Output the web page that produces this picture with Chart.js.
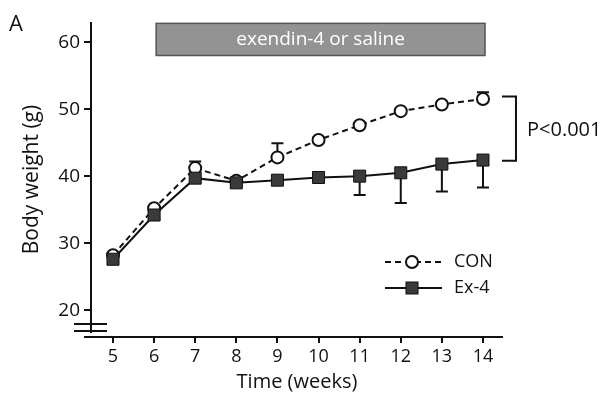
<!DOCTYPE html>
<html>
<head>
<meta charset="utf-8">
<script src="https://cdn.jsdelivr.net/npm/chart.js@4/dist/chart.umd.min.js"></script>
<style>
  html, body { margin: 0; padding: 0; background: #fff; }
</style>
</head>
<body>
<canvas id="myChart" width="613" height="395"></canvas>
<script>
// data
const weeks = [5, 6, 7, 8, 9, 10, 11, 12, 13, 14];
const conValues = [28.2, 35.2, 41.2, 39.3, 42.8, 45.4, 47.6, 49.7, 50.7, 51.5];
const conErrUp = [0.3, 0.3, 1.0, 0.4, 2.1, 0.4, 0.4, 0.4, 0.4, 1.0];
const exValues = [27.6, 34.2, 39.7, 39.0, 39.4, 39.8, 40.0, 40.5, 41.8, 42.4];
const exErrDown = [0.3, 0.5, 0.4, 0.4, 0.5, 0.5, 2.8, 4.5, 4.1, 4.1];
const yTicks = [20, 30, 40, 50, 60];
const seriesNames = ['CON', 'Ex-4'];
const bannerText = 'exendin-4 or saline';
const pText = 'P<0.001';

const FONT = "'Open Sans', 'Liberation Sans', sans-serif";

// error bars, one-sided (CON up, Ex-4 down)
const errorBars = {
    id: 'errorBars',
    beforeDatasetsDraw(chart) {
        const ctx = chart.ctx;
        const x = chart.scales.x, y = chart.scales.y;
        ctx.save();
        ctx.strokeStyle = '#111';
        ctx.lineWidth = 2;
        const draw = (vals, errs, dir) => {
            vals.forEach((v, i) => {
                const px = x.getPixelForValue(weeks[i]);
                const p0 = y.getPixelForValue(v);
                const p1 = y.getPixelForValue(v + dir * errs[i]);
                ctx.beginPath();
                ctx.moveTo(px, p0); ctx.lineTo(px, p1);
                ctx.moveTo(px - 6, p1); ctx.lineTo(px + 6, p1);
                ctx.stroke();
            });
        };
        draw(conValues, conErrUp, 1);
        draw(exValues, exErrDown, -1);
        ctx.restore();
    }
};

// axes with break, banner, bracket, legend, panel letter
const decorations = {
    id: 'decorations',
    afterDraw(chart) {
        const ctx = chart.ctx;
        const x = chart.scales.x, y = chart.scales.y;
        const area = chart.chartArea;
        ctx.save();
        ctx.strokeStyle = '#111';
        ctx.lineWidth = 2;

        // y axis down to the break
        ctx.beginPath();
        ctx.moveTo(area.left, area.top);
        ctx.lineTo(area.left, area.bottom - 4);
        ctx.stroke();
        // break marks
        ctx.beginPath();
        ctx.moveTo(area.left - 17, area.bottom - 13); ctx.lineTo(area.left + 16, area.bottom - 13);
        ctx.moveTo(area.left - 17, area.bottom - 6); ctx.lineTo(area.left + 16, area.bottom - 6);
        ctx.stroke();
        // x axis
        ctx.beginPath();
        ctx.moveTo(area.left - 7, area.bottom);
        ctx.lineTo(area.right, area.bottom);
        ctx.stroke();

        // banner
        const bx0 = x.getPixelForValue(6.05), bx1 = x.getPixelForValue(14.05);
        const by0 = y.getPixelForValue(62.8), by1 = y.getPixelForValue(58.0);
        ctx.fillStyle = '#939393';
        ctx.fillRect(bx0, by0, bx1 - bx0, by1 - by0);
        ctx.lineWidth = 1.5;
        ctx.strokeStyle = '#555';
        ctx.strokeRect(bx0, by0, bx1 - bx0, by1 - by0);
        ctx.fillStyle = '#fff';
        ctx.font = '19px ' + FONT;
        ctx.textAlign = 'center';
        ctx.textBaseline = 'middle';
        ctx.fillText(bannerText, (bx0 + bx1) / 2, (by0 + by1) / 2);

        // significance bracket
        const x14 = x.getPixelForValue(14);
        const top = y.getPixelForValue(conValues[9] + 0.4);
        const bot = y.getPixelForValue(exValues[9] - 0.1);
        ctx.strokeStyle = '#111';
        ctx.lineWidth = 2;
        ctx.beginPath();
        ctx.moveTo(x14 + 19, top); ctx.lineTo(x14 + 33, top);
        ctx.lineTo(x14 + 33, bot); ctx.lineTo(x14 + 19, bot);
        ctx.stroke();
        ctx.fillStyle = '#111';
        ctx.font = '20px ' + FONT;
        ctx.textAlign = 'left';
        ctx.fillText(pText, x14 + 44, (top + bot) / 2 + 2);

        // legend
        const lx0 = 385, lx1 = 442, lxm = 412;
        const rows = [262, 288];
        ctx.lineWidth = 2;
        ctx.setLineDash([6, 4]);
        ctx.beginPath(); ctx.moveTo(lx0, rows[0]); ctx.lineTo(lx1, rows[0]); ctx.stroke();
        ctx.setLineDash([]);
        ctx.beginPath(); ctx.arc(lxm, rows[0], 6, 0, Math.PI * 2);
        ctx.fillStyle = '#fff'; ctx.fill(); ctx.stroke();
        ctx.beginPath(); ctx.moveTo(lx0, rows[1]); ctx.lineTo(lx1, rows[1]); ctx.stroke();
        ctx.fillStyle = '#3a3a3a';
        ctx.fillRect(lxm - 6, rows[1] - 6, 12, 12);
        ctx.lineWidth = 1;
        ctx.strokeRect(lxm - 6, rows[1] - 6, 12, 12);
        ctx.fillStyle = '#111';
        ctx.font = '18px ' + FONT;
        ctx.fillText(seriesNames[0], 454, rows[0]);
        ctx.fillText(seriesNames[1], 454, rows[1]);

        // panel letter
        ctx.font = '22px ' + FONT;
        ctx.fillText('A', 9, 25);
        ctx.restore();
    }
};

const ctx = document.getElementById('myChart').getContext('2d');

new Chart(ctx, {
    type: 'line',
    data: {
        datasets: [
            {
                label: seriesNames[1],
                data: weeks.map((w, i) => ({ x: w, y: exValues[i] })),
                borderColor: '#111',
                borderWidth: 2,
                pointStyle: 'rect',
                pointRadius: 8.5,
                pointBackgroundColor: '#3a3a3a',
                pointBorderColor: '#111',
                pointBorderWidth: 1,
                fill: false,
                order: 1
            },
            {
                label: seriesNames[0],
                data: weeks.map((w, i) => ({ x: w, y: conValues[i] })),
                borderColor: '#111',
                borderWidth: 2,
                borderDash: [6, 4],
                pointStyle: 'circle',
                pointRadius: 6,
                pointBackgroundColor: '#fff',
                pointBorderColor: '#111',
                pointBorderWidth: 2,
                fill: false,
                order: 2
            }
        ]
    },
    options: {
        responsive: false,
        animation: false,
        events: [],
        layout: { padding: { top: 22, right: 110, left: 0, bottom: 0 } },
        plugins: {
            legend: { display: false },
            tooltip: { enabled: false }
        },
        scales: {
            x: {
                type: 'linear',
                min: 4.465,
                max: 14.487,
                afterBuildTicks: (scale) => { scale.ticks = weeks.map(v => ({ value: v })); },
                afterFit: (scale) => { scale.height = 58; },
                border: { display: false },
                grid: { drawOnChartArea: false, drawTicks: true, tickLength: 6, color: '#111', lineWidth: 2 },
                ticks: { autoSkip: false, maxRotation: 0, color: '#111', padding: 3, font: { family: FONT, size: 18 } },
                title: { display: true, text: 'Time (weeks)', color: '#111', padding: { top: 0, bottom: 1 }, font: { family: FONT, size: 20 } }
            },
            y: {
                min: 16,
                max: 63,
                afterBuildTicks: (scale) => { scale.ticks = yTicks.map(v => ({ value: v })); },
                afterFit: (scale) => { scale.width = 91; },
                border: { display: false },
                grid: { drawOnChartArea: false, drawTicks: true, tickLength: 7, color: '#111', lineWidth: 2 },
                ticks: { color: '#111', padding: 4, font: { family: FONT, size: 19 } },
                title: { display: true, text: 'Body weight (g)', color: '#111', padding: { top: 19, bottom: 0 }, font: { family: FONT, size: 21 } }
            }
        }
    },
    plugins: [errorBars, decorations]
});
</script>
</body>
</html>
